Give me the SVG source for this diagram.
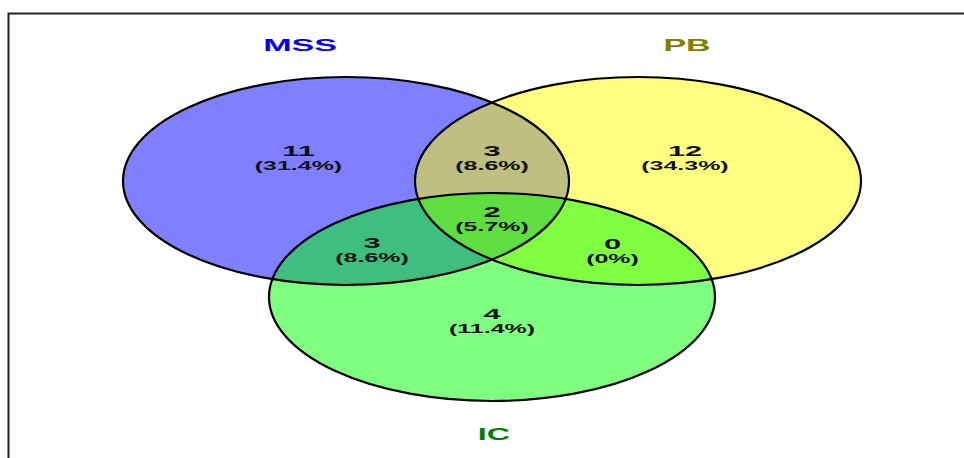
<svg xmlns="http://www.w3.org/2000/svg" width="964" height="458" viewBox="0 0 964 458">
  <style>
    .t { font-family: "Liberation Sans", Arial, sans-serif; font-weight: bold; text-anchor: middle; }
    .n { font-size: 15px; fill: #111; }
    .p { font-size: 12px; fill: #111; }
    .lab { font-size: 17px; }
    .set { stroke: none; fill-opacity: 0.5; }
    .edge { fill: none; stroke: #000; stroke-width: 2.2; }
  </style>
  <rect width="964" height="458" fill="#fff"/>
  <path d="M8.5 458 V13.5 H964" fill="none" stroke="#222" stroke-width="2"/>
  <g id="fills">
    <ellipse id="fill-mss" class="set" cx="346" cy="181" rx="223" ry="104" fill="#0000ff"/>
    <ellipse id="fill-pb" class="set" cx="638" cy="181" rx="223" ry="104" fill="#ffff00"/>
    <ellipse id="fill-ic" class="set" cx="492" cy="297" rx="223" ry="104" fill="#00ff00"/>
  </g>
  <g id="outlines">
    <ellipse class="edge" cx="346" cy="181" rx="223" ry="104"/>
    <ellipse class="edge" cx="638" cy="181" rx="223" ry="104"/>
    <ellipse class="edge" cx="492" cy="297" rx="223" ry="104"/>
  </g>
  <g id="MSS">
    <text class="t lab" fill="#0000ff" transform="translate(300,50.5) scale(2.0,1)">MSS</text>
  </g>
  <g id="PB">
    <text class="t lab" fill="#808000" transform="translate(687,50.5) scale(2.0,1)">PB</text>
  </g>
  <g id="IC">
    <text class="t lab" fill="#008000" transform="translate(494,439.5) scale(1.9,1)">IC</text>
  </g>
  <g id="only-mss">
    <text class="t n" transform="translate(298.5,155.8) scale(2.05,1)">11</text>
    <text class="t p" transform="translate(298.5,169.8) scale(2.08,1)">(31.4%)</text>
  </g>
  <g id="mss-pb">
    <text class="t n" transform="translate(492,155.8) scale(2.05,1)">3</text>
    <text class="t p" transform="translate(492,169.8) scale(2.08,1)">(8.6%)</text>
  </g>
  <g id="only-pb">
    <text class="t n" transform="translate(685,155.8) scale(2.05,1)">12</text>
    <text class="t p" transform="translate(685,169.8) scale(2.08,1)">(34.3%)</text>
  </g>
  <g id="all-three">
    <text class="t n" transform="translate(492,216.8) scale(2.05,1)">2</text>
    <text class="t p" transform="translate(492,230.8) scale(2.08,1)">(5.7%)</text>
  </g>
  <g id="mss-ic">
    <text class="t n" transform="translate(372,248.3) scale(2.05,1)">3</text>
    <text class="t p" transform="translate(372,262.3) scale(2.08,1)">(8.6%)</text>
  </g>
  <g id="pb-ic">
    <text class="t n" transform="translate(612.5,248.8) scale(2.05,1)">0</text>
    <text class="t p" transform="translate(612.5,262.8) scale(2.08,1)">(0%)</text>
  </g>
  <g id="only-ic">
    <text class="t n" transform="translate(492,318.8) scale(2.05,1)">4</text>
    <text class="t p" transform="translate(492,332.8) scale(2.08,1)">(11.4%)</text>
  </g>
</svg>
